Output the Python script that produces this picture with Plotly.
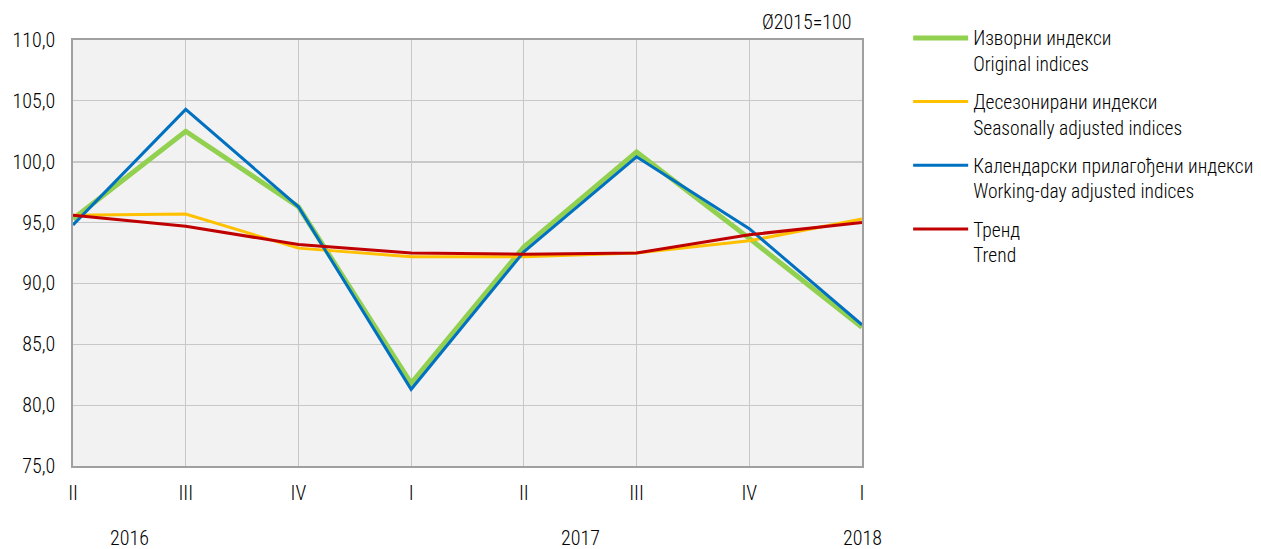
import plotly.graph_objects as go

quarters = ["II", "III", "IV", "I", "II", "III", "IV", "I"]
years = ["2016", "2017", "2018"]
year_pos = [0.5, 4.5, 7]
original = [95.3, 102.5, 96.3, 81.8, 93.0, 100.8, 93.7, 86.4]
seasonal = [95.6, 95.7, 92.9, 92.2, 92.2, 92.5, 93.5, 95.3]
workday = [94.8, 104.3, 96.3, 81.3, 92.6, 100.4, 94.5, 86.6]
trend = [95.6, 94.7, 93.2, 92.5, 92.4, 92.5, 94.0, 95.0]

names = [
    "Изворни индекси<br>Original indices",
    "Десезонирани индекси<br>Seasonally adjusted indices",
    "Календарски прилагођени индекси<br>Working-day adjusted indices",
    "Тренд<br>Trend",
]
series = [original, seasonal, workday, trend]
colors = ["#92d050", "#ffc000", "#0070c0", "#c00000"]
widths = [5, 3, 3, 3]

FONT = "Roboto Condensed, Liberation Sans Narrow, Arial Narrow, sans-serif"
FS = 20
x = list(range(len(quarters)))

fig = go.Figure()
for i, (n, s, c, w) in enumerate(zip(names, series, colors, widths)):
    fig.add_trace(go.Scatter(x=x, y=s, mode="lines", name=n, legendgroup=f"g{i}",
                             line=dict(color=c, width=w), hoverinfo="y"))

fig.add_shape(type="line", xref="paper", x0=0, x1=1, yref="y", y0=100, y1=100,
              line=dict(color="#a0a0a0", width=1.5), layer="between")

for yl, yp in zip(years, year_pos):
    fig.add_annotation(x=yp, y=0, xref="x", yref="paper", yshift=-86, text=yl,
                       showarrow=False,
                       font=dict(size=FS, color="#000", family=FONT, weight=300))

fig.add_annotation(x=1, y=1, xref="paper", yref="paper", xanchor="right", yanchor="bottom",
                   xshift=-8, yshift=4, text="Ø2015=100", showarrow=False,
                   font=dict(size=FS, color="#000", family=FONT, weight=300))

fig.update_layout(
    width=1253, height=541,
    margin=dict(l=65, r=399, t=32, b=83, autoexpand=False),
    paper_bgcolor="white", plot_bgcolor="#f2f2f2",
    font=dict(family=FONT, size=FS, color="#000", weight=300),
    showlegend=True,
    legend=dict(x=1.0585, y=1.05, xanchor="left", yanchor="top", valign="top",
                itemwidth=55, tracegroupgap=10,
                font=dict(size=19.5, family=FONT, weight=300),
                bgcolor="rgba(0,0,0,0)"),
    xaxis=dict(range=[0, 7], tickvals=x, ticktext=quarters, showgrid=True,
               gridcolor="#c8c8c8", gridwidth=1, zeroline=False, showline=True,
               linecolor="#a0a0a0", linewidth=1.5, mirror=True, automargin=False,
               ticks="outside", ticklen=8, tickcolor="rgba(0,0,0,0)"),
    yaxis=dict(range=[75, 110], dtick=5, tick0=75, tickformat=".1f",
               showgrid=True, gridcolor="#c8c8c8", gridwidth=1, automargin=False,
               zeroline=False, showline=True, linecolor="#a0a0a0", linewidth=1.5,
               mirror=True, ticks="outside", ticklen=12, tickcolor="rgba(0,0,0,0)"),
    separators=",.",
)

fig.write_html("out.html")
